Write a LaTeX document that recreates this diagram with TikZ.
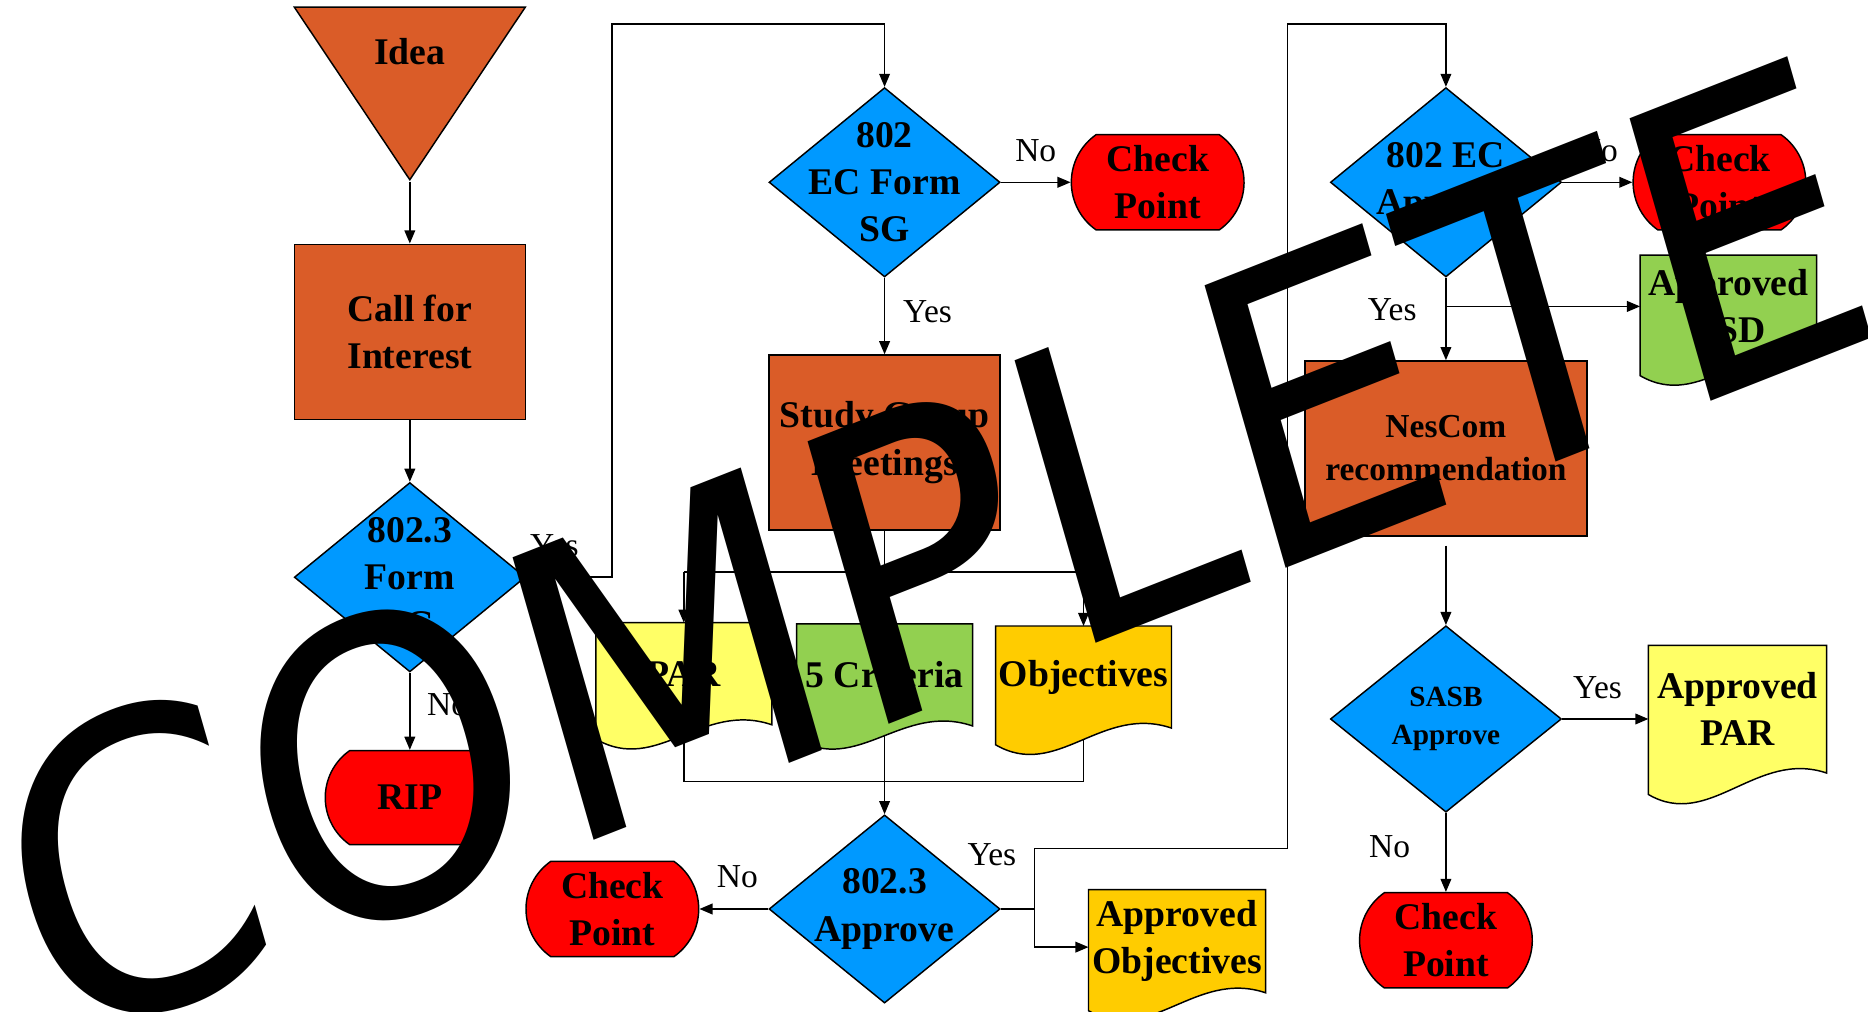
\documentclass[tikz,border=0pt]{standalone}
\usepackage{fontspec}
\setmainfont{Liberation Serif}
\newfontfamily\stampfont{DejaVu Sans}
\usetikzlibrary{positioning,arrows.meta,shapes.geometric,shapes.misc,calc}

\definecolor{burnt}{RGB}{218,92,40}
\definecolor{skyblue}{RGB}{0,153,255}
\definecolor{stopred}{RGB}{255,0,0}
\definecolor{paleyellow}{RGB}{255,255,102}
\definecolor{leafgreen}{RGB}{146,208,80}
\definecolor{gold}{RGB}{255,204,0}

\newcommand{\boxtext}{\fontsize{18}{22.5}\selectfont\bfseries}
\newcommand{\boxtextsm}{\fontsize{16}{20.5}\selectfont\bfseries}
\newcommand{\boxtextxs}{\fontsize{14}{18}\selectfont\bfseries}
\newcommand{\answer}{\fontsize{16}{18}\selectfont}

\pgfdeclarelayer{back}
\pgfdeclarelayer{docs}
\pgfsetlayers{back,docs,main}

\tikzset{
  flow/.style={line width=0.7pt, -{Triangle[length=0.22cm,width=0.18cm]}},
  plain/.style={line width=0.7pt},
  proc/.style={rectangle, draw, line width=0.7pt, fill=burnt, minimum width=3.88cm,
    minimum height=2.94cm, inner sep=0pt, align=center, font=\boxtext},
  decide/.style={diamond, draw, line width=0.7pt, fill=skyblue, minimum width=3.88cm,
    minimum height=3.18cm, inner sep=0pt},
  dtext/.style={align=center, font=\boxtext},
  halt/.style={rounded rectangle, rounded rectangle arc length=110, draw, line width=0.7pt,
    fill=stopred, minimum width=2.9cm, minimum height=1.6cm, inner sep=0pt, align=center,
    font=\boxtext},
  docnode/.style={rectangle, minimum width=2.94cm, inner sep=0pt, align=center, font=\boxtext},
  idea/.style={isosceles triangle, isosceles triangle stretches, shape border rotate=270,
    draw, line width=0.7pt, fill=burnt, minimum width=3.88cm, minimum height=2.9cm, inner sep=0pt},
  answer/.style={font=\answer, inner sep=0pt},
}

% document outline: node, fill, drop of the lower left corner
\newcommand{\docshape}[3]{%
  \path[draw, line width=0.7pt, fill=#2] (#1.north west) -- ([yshift=-#3]#1.south west)
    .. controls +(1.03cm,-0.6cm) and +(-1.18cm,0.4cm) .. (#1.south east)
    -- (#1.north east) -- cycle;}

\begin{document}
\begin{tikzpicture}[x=0.02cm, y=-0.02cm]
\useasboundingbox (0,0) rectangle (1568,849.4);
\coordinate (railtop) at (0,20);
\coordinate (split) at (0,480);
\coordinate (join) at (0,656);

% left column
\node[idea, anchor=apex] (idea) at (344,152.5) {};
\node[dtext] (ideatext) at (344,43) {Idea};
\node[proc] (call) at (344,278.5) {Call for\\Interest};
\node[decide, label={[dtext]center:{802.3\\Form\\SG}}] (form) at (344,484.5) {};
\node[halt, minimum width=2.84cm, minimum height=1.58cm] (rip) at (344,669.5) {RIP};

% middle column
\node[decide, label={[dtext]center:{802\\EC Form\\SG}}] (ecsg) at (742.5,153) {};
\node[halt] (cp1) at (971.75,153) {Check\\Point};
\node[proc] (study) at (742.5,371.5) {Study Group\\Meetings};
\node[docnode, minimum height=1.7cm] (par) at (574,565.5) {PAR};
\node[docnode, minimum height=1.7cm] (crit) at (742.5,566.5) {5 Criteria};
\node[docnode, minimum height=1.7cm] (obj) at (909.5,568.3) {Objectives};
\node[decide, minimum height=3.16cm, label={[dtext]center:{802.3\\Approve}}] (appr) at (742.5,763) {};
\node[halt] (cp2) at (514,763) {Check\\Point};
\node[docnode, minimum width=2.96cm, minimum height=1.72cm] (aobj) at (988,790) {Approved\\Objectives};

% right column
\node[decide, label={[dtext]center:{802 EC\\Approve}}] (ecap) at (1213.7,153) {};
\node[halt] (cp3) at (1443.3,153) {Check\\Point};
\node[docnode, minimum width=2.95cm, minimum height=1.71cm] (acsd) at (1450.75,257.2) {Approved\\CSD};
\node[proc, minimum width=4.73cm, font=\boxtextsm] (nescom) at (1213.7,376.4) {NesCom\\recommendation};
\node[decide, minimum height=3.13cm, label={[dtext, font=\boxtextxs]center:{SASB\\Approve}}] (sasb) at (1213.7,603.5) {};
\node[docnode, minimum width=2.98cm, minimum height=2.13cm] (apar) at (1458.5,595.3) {Approved\\PAR};
\node[halt] (cp4) at (1213.7,789.3) {Check\\Point};

\begin{pgfonlayer}{docs}
\docshape{par}{paleyellow}{0.24cm}
\docshape{crit}{leafgreen}{0.22cm}
\docshape{obj}{gold}{0.28cm}
\docshape{aobj}{gold}{0.3cm}
\docshape{acsd}{leafgreen}{0.3cm}
\docshape{apar}{paleyellow}{0.36cm}
\end{pgfonlayer}

\begin{pgfonlayer}{back}
\draw[flow] (idea.apex) -- (call.north);
\draw[flow] (call.south) -- (form.north);
\draw[flow] (form.south) -- node[answer, pos=0.42, right=0.28cm] {No} (rip.north);
\draw[flow] (form.east) -- ++(72,0) node[answer, pos=0.33, above=0.33cm] {Yes}
  |- (ecsg.north |- railtop) -- (ecsg.north);
\draw[flow] (ecsg.east) -- node[answer, above=0.33cm] {No} (cp1.west);
\draw[flow] (ecsg.south) -- node[answer, pos=0.44, right=0.3cm] {Yes} (study.north);
\draw[plain] (study.south) -- (study.south |- split);
\draw[plain] (par.north |- split) -- (obj.north |- split);
\foreach \d in {par,crit,obj}
  \draw[flow] (\d.north |- split) -- (\d.north);
\draw[plain] (par.south) -- (par.south |- join) -- (obj.south |- join) -- (obj.south);
\draw[flow] (crit.south) -- (appr.north);
\draw[flow] (appr.west) -- node[answer, pos=0.45, above=0.35cm] {No} (cp2.east);
\draw[flow] (appr.east) -- ++(28.4,0) coordinate (fork)
  node[answer, pos=0, above=0.71cm, xshift=-0.15cm] {Yes}
  |- ++(212,-51) |- (ecap.north |- railtop) -- (ecap.north);
\draw[flow] (fork) |- ([yshift=-0.1cm]aobj.west);
\draw[flow] (ecap.east) -- node[answer, above=0.33cm] {No} (cp3.west);
\draw[flow] (ecap.south) -- node[answer, pos=0.39, left=0.48cm] {Yes} (nescom.north);
\draw[flow] (ecap.south |- acsd.west) -- (acsd.west);
\draw[flow] ([yshift=-0.15cm]nescom.south) -- (sasb.north);
\draw[flow] (sasb.east) -- node[answer, pos=0.41, above=0.32cm] {Yes} (sasb.east -| apar.west);
\draw[flow] (sasb.south) -- node[answer, pos=0.43, left=0.59cm] {No} (cp4.north);
\end{pgfonlayer}

% stamp across the chart
\node[font=\stampfont\fontsize{142}{142}\selectfont, inner sep=0pt,
  cm={1.151,0.453,-0.374,1.304,(0,0)}] (stamp) at (783,462) {COMPLETE};
\end{tikzpicture}
\end{document}
